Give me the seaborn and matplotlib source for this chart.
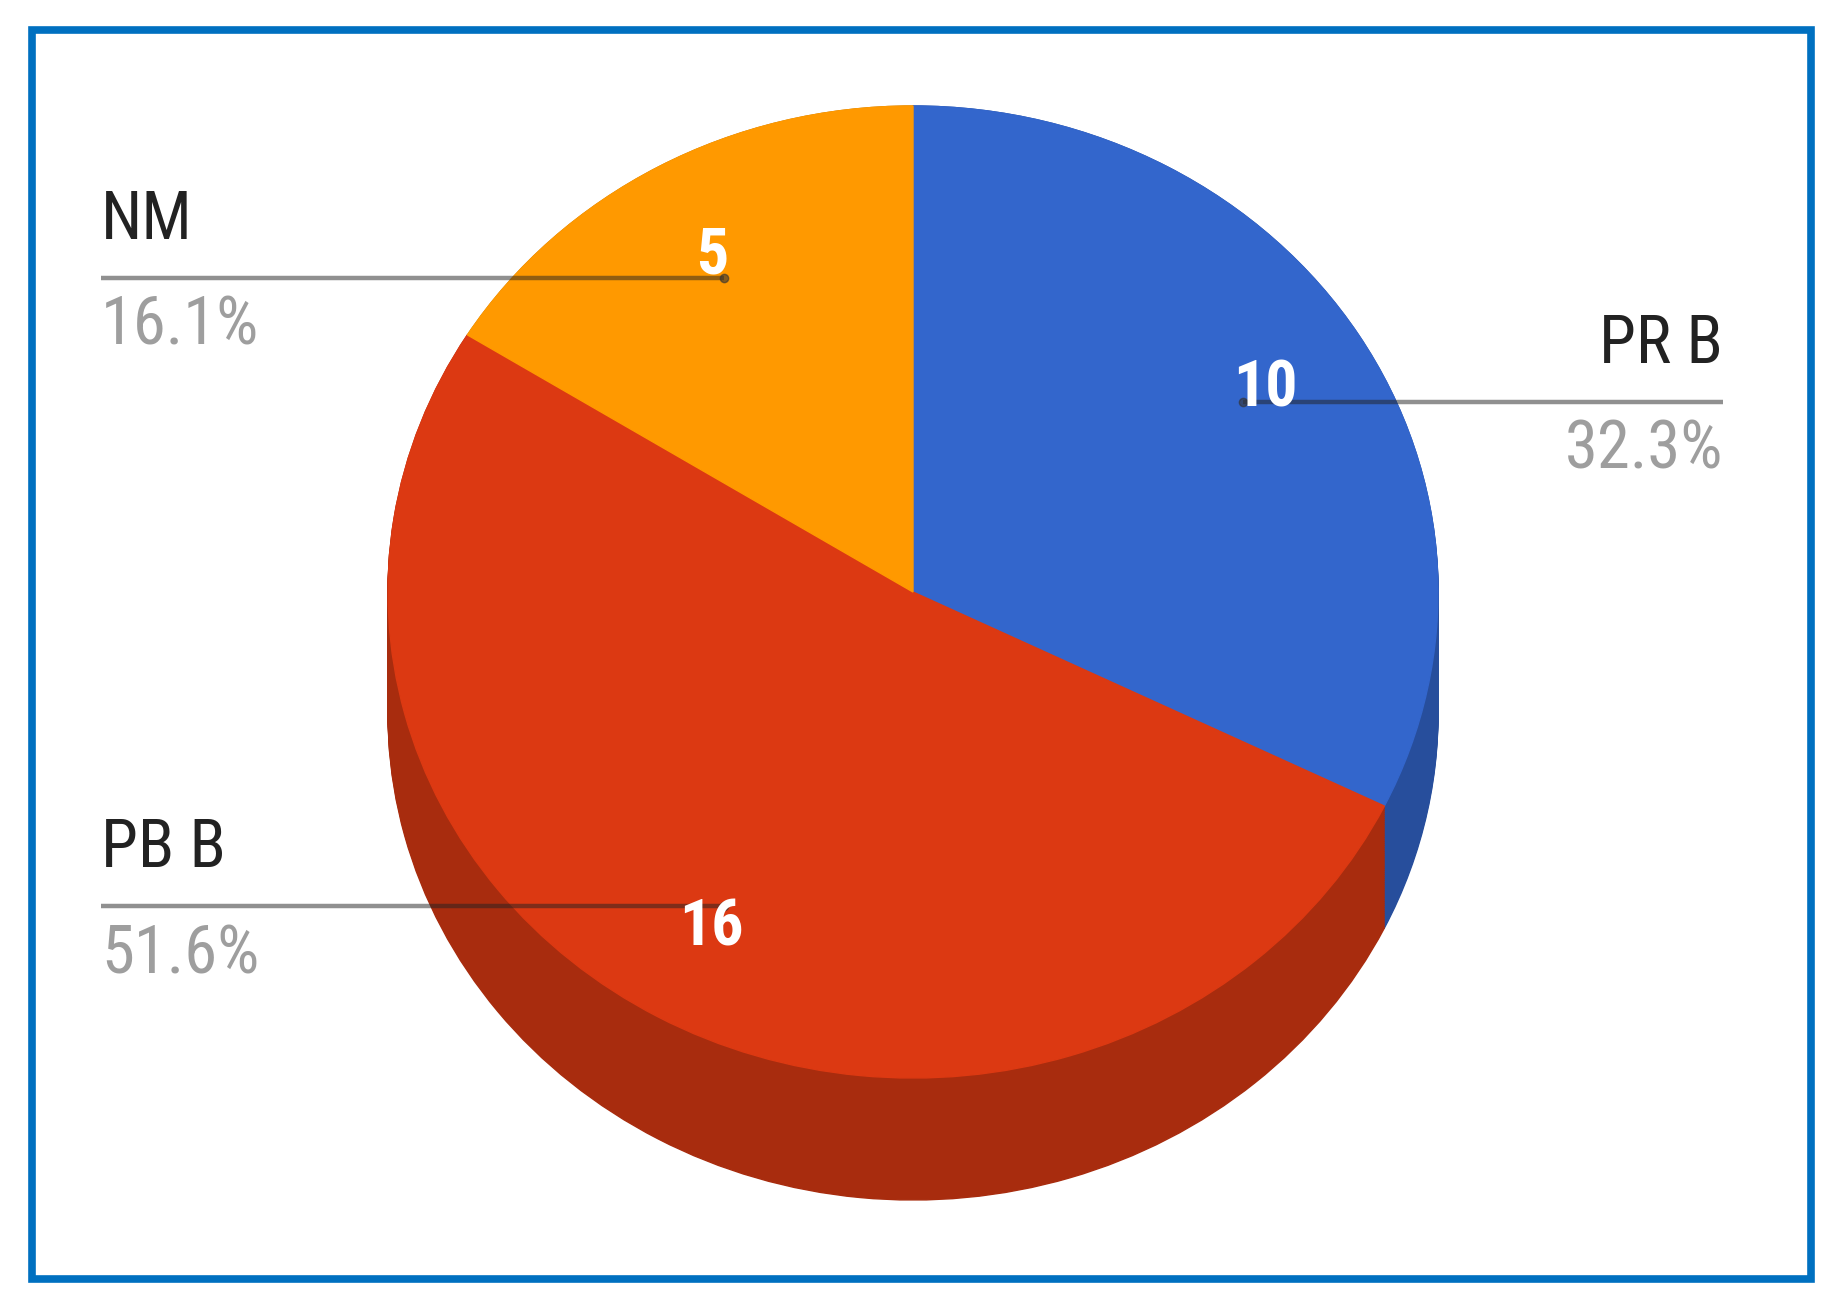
import numpy as np
import matplotlib
matplotlib.use("Agg")
import matplotlib.pyplot as plt
from matplotlib import font_manager
from matplotlib.patches import Rectangle
import seaborn as sns

# data
categories = ["PR B", "PB B", "NM"]
counts = [10, 16, 5]
top_colors = ["#3366CC", "#DC3912", "#FF9900"]
side_colors = ["#274E9C", "#A82C0E", "#BF7300"]

sns.set_theme(style="white")
names = {f.name for f in font_manager.fontManager.ttflist}
font = next((f for f in ["Liberation Sans Narrow", "Roboto Condensed", "PT Sans Narrow",
                         "Archivo Narrow", "Liberation Sans"] if f in names), "DejaVu Sans")
plt.rcParams["font.family"] = [font, "DejaVu Sans"]

W, H = 1844, 1313
fig = plt.figure(figsize=(W / 100, H / 100), dpi=100)
fig.patch.set_facecolor("white")

# pie geometry in pixels (top face ellipse + extruded side)
cx, cy, rx, ry, depth = 913, 592, 525, 486, 122
d = depth / ry
ax = fig.add_axes([(cx - rx) / W, (H - cy - ry - depth) / H, 2 * rx / W, (2 * ry + depth) / H])

# side of the 3d pie: stacked darker pies
for off in np.linspace(d, 0, 60):
    side, _ = ax.pie(counts, colors=side_colors, startangle=90, counterclock=False,
                     center=(0, -off), radius=1)
    for w in side:
        w.set_edgecolor(w.get_facecolor())
        w.set_linewidth(1)

wedges, _ = ax.pie(counts, colors=top_colors, startangle=90, counterclock=False)
for w in wedges:
    w.set_edgecolor(w.get_facecolor())
    w.set_linewidth(1)
ax.set_aspect("auto")
ax.set_xlim(-1, 1)
ax.set_ylim(-1 - d, 1)
ax.axis("off")

# overlay in pixel coords for border, leader lines and labels
ov = fig.add_axes([0, 0, 1, 1], zorder=5)
ov.set_xlim(0, W)
ov.set_ylim(H, 0)
ov.axis("off")
ov.patch.set_alpha(0)
ov.add_patch(Rectangle((32, 30), 1779, 1249, fill=False, edgecolor="#0070C0", linewidth=5.5))

total = sum(counts)
to_ov = ov.transData.inverted()
for w, name, val in zip(wedges, categories, counts):
    mid = np.deg2rad((w.theta1 + w.theta2) / 2)
    x0, y0 = to_ov.transform(ax.transData.transform((0.74 * np.cos(mid), 0.74 * np.sin(mid))))
    tx, ty = to_ov.transform(ax.transData.transform((0.79 * np.cos(mid), 0.79 * np.sin(mid))))
    if np.cos(mid) > 0:
        x_end, ha = 1723, "right"
    else:
        x_end, ha = 101, "left"
    ov.plot([x_end, x0], [y0, y0], color="#222222", alpha=0.5, lw=3.2, solid_capstyle="butt")
    ov.plot(x0, y0, "o", color="#333333", ms=6, alpha=0.6)
    ov.text(x_end, y0 - 39, name, ha=ha, va="baseline", fontsize=48, color="#222222")
    ov.text(x_end, y0 + 67, f"{100 * val / total:.1f}%", ha=ha, va="baseline",
            fontsize=48, color="#9e9e9e")
    ov.text(tx, ty, str(val), ha="center", va="center", fontsize=46,
            color="white", fontweight="bold")

fig.savefig("out.png", dpi=100)
